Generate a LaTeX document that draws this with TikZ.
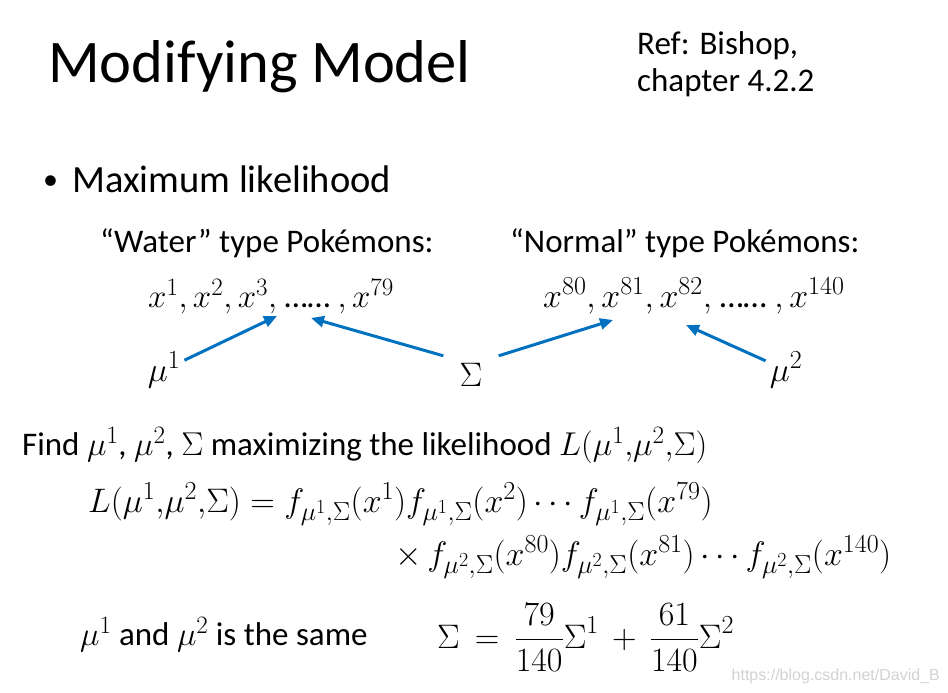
\RequirePackage{fix-cm}
\documentclass[tikz,border=0pt]{standalone}
\usepackage{amsmath}
\usepackage[no-math]{fontspec}
\setmainfont{Carlito}
\newfontfamily\wmfont{Liberation Sans}
\usetikzlibrary{arrows.meta}
\definecolor{arrowblue}{RGB}{0,112,192}
\definecolor{wmgray}{RGB}{210,210,210}
\DeclareMathSizes{33}{33}{25}{19}
\DeclareMathSizes{34}{34}{26}{20}
\begin{document}
\begin{tikzpicture}[x=1pt,y=-1pt,
  txt/.style={anchor=base west, inner sep=0pt, font=\fontsize{33}{40}\selectfont},
  mtxt/.style={anchor=base west, inner sep=0pt, font=\fontsize{34}{40}\selectfont},
  mth/.style={inner sep=0pt, font=\fontsize{34}{40}\selectfont},
  link/.style={draw=arrowblue, line width=3pt, -{Triangle[length=13pt,width=11pt]}}
]
\useasboundingbox (0,0) rectangle (948,693);
% title and reference
\node[anchor=base west, inner sep=0pt, font=\fontsize{60.5}{72}\selectfont] (title) at (48,82) {Modifying Model};
\node[txt] (ref1) at (637,55) {Ref: Bishop,};
\node[txt] (ref2) at (637,92) {chapter 4.2.2};
% bullet
\node[txt, font=\fontsize{30}{36}\selectfont] (bul) at (43,189) {\textbullet};
\node[txt, font=\fontsize{38.5}{46}\selectfont] (ml) at (72,192) {Maximum likelihood};
% groups
\node[txt] (water) at (100,252) {“Water” type Pokémons:};
\node[txt] (normal) at (510,252) {“Normal” type Pokémons:};
\node[mtxt, font=\fontsize{33}{40}\selectfont] (xs1) at (148,307) {$x^1, x^2, x^3,$ …… $,x^{79}$};
\node[mtxt] (xs2) at (543,307) {$x^{80}, x^{81}, x^{82},$ …… $,x^{140}$};
% parameters
\node[mth, inner xsep=4pt, inner ysep=3pt] (mu1) at (164,370) {$\mu^1$};
\node[mth, minimum width=55pt, minimum height=38pt] (sigma) at (471,375) {$\Sigma$};
\node[mth, inner xsep=4pt, inner ysep=3pt] (mu2) at (786,370) {$\mu^2$};
\coordinate (t1) at (277,316);
\coordinate (t2) at (311,318);
\coordinate (t3) at (613,320);
\coordinate (t4) at (686,325);
\draw[link] (mu1) -- (t1);
\draw[link] (sigma.north west) -- (t2);
\draw[link] (sigma.north east) -- (t3);
\draw[link] (mu2) -- (t4);
% find line
\node[txt] (find) at (22,455) {Find $\mu^1$, $\mu^2$, $\Sigma$ maximizing the likelihood $L(\mu^1{,}\mu^2{,}\Sigma)$};
\node[mtxt] (eq1) at (88,512) {$L(\mu^1{,}\mu^2{,}\Sigma) = f_{\mu^1,\Sigma}(x^1)f_{\mu^1,\Sigma}(x^2)\cdots f_{\mu^1,\Sigma}(x^{79})$};
\node[mtxt] (eq2) at (395,565) {$\times\, f_{\mu^2,\Sigma}(x^{80})f_{\mu^2,\Sigma}(x^{81})\cdots f_{\mu^2,\Sigma}(x^{140})$};
\node[txt] (same) at (80,645) {$\mu^1$ and $\mu^2$ is the same};
\node[mtxt] (sig) at (437,648) {$\displaystyle \Sigma \,=\, \frac{79}{140}\Sigma^1 \,+\, \frac{61}{140}\Sigma^2$};
% watermark
\node[anchor=base east, inner sep=0pt, font=\wmfont\fontsize{16}{19}\selectfont, text=wmgray] (wm) at (940,680) {https://blog.csdn.net/David\_B};
\end{tikzpicture}
\end{document}
